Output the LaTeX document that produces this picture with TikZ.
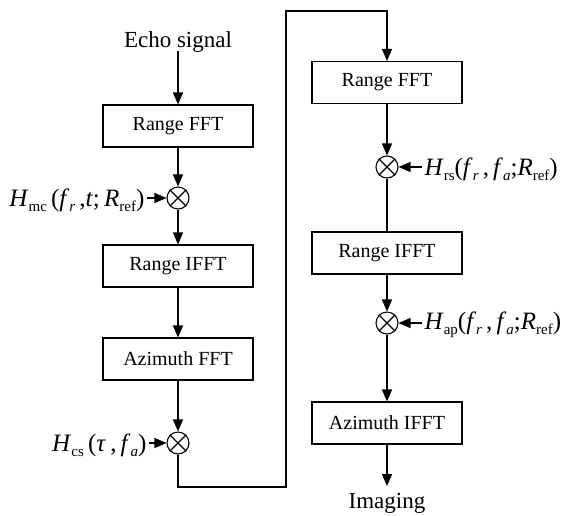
\documentclass[tikz,border=0pt]{standalone}
\usepackage{fontspec}
\setmainfont{Liberation Serif}
\usetikzlibrary{arrows.meta}
% subscripts set small and lowered
\newcommand{\lsub}[1]{\raisebox{-5pt}{\fontsize{15}{15}\selectfont #1}}
\newcommand{\isub}[1]{\raisebox{-5pt}{\fontsize{15}{15}\selectfont\itshape #1}}
\begin{document}
\begin{tikzpicture}[x=1pt,y=-1pt,
  line width=1.3pt,
  procbox/.style={draw, line width=1.1pt, minimum width=150pt, minimum height=42pt,
    inner sep=0pt, font=\fontsize{20}{24}\selectfont\rmfamily},
  mixc/.style={draw, circle, line width=1.1pt, minimum size=22pt, inner sep=0pt},
  flow/.style={-{Triangle[length=12pt,width=10pt]}},
  endtext/.style={font=\fontsize{23}{27}\selectfont\rmfamily, inner sep=0pt},
  lab/.style={font=\fontsize{25}{29}\selectfont\rmfamily, inner sep=0pt}]
\useasboundingbox (0,0) rectangle (569,515);

% left column
\node[endtext, anchor=base] (echo) at (178,47) {Echo signal};
\node[procbox] (rfft1) at (178,126) {Range FFT};
\node[mixc] (m1) at (178,198) {};
\node[procbox] (rifft1) at (178,266) {Range IFFT};
\node[procbox] (afft) at (178,359) {Azimuth FFT};
\node[mixc] (m2) at (178,443) {};

% right column
\node[procbox] (rfft2) at (387,82.5) {Range FFT};
\node[mixc] (m3) at (387,167) {};
\node[procbox] (rifft2) at (387,253) {Range IFFT};
\node[mixc] (m4) at (387,323) {};
\node[procbox] (aifft) at (387,423) {Azimuth IFFT};
\node[endtext, anchor=base] (img) at (387,508) {Imaging};

% crosses inside the multipliers
\foreach \m in {m1,m2,m3,m4}{
  \draw[line width=1.1pt] (\m.north west) -- (\m.south east)
                          (\m.north east) -- (\m.south west);
}

% phase-function labels
\node[lab, anchor=east] (hmc) at (145,200)
  {\textit{H}\lsub{mc}\,(\textit{f}\isub{r}\,,\textit{t};\,\textit{R}\lsub{ref})};
\node[lab, anchor=east] (hcs) at (147,445)
  {\textit{H}\lsub{cs}\,(\textit{τ}\,,\,\textit{f}\isub{a})};
\node[lab, anchor=west] (hrs) at (424,169)
  {\textit{H}\lsub{rs}(\textit{f}\isub{r}\,,\,\textit{f}\isub{a};\textit{R}\lsub{ref})};
\node[lab, anchor=west] (hap) at (424,325)
  {\textit{H}\lsub{ap}(\textit{f}\isub{r}\,,\,\textit{f}\isub{a};\textit{R}\lsub{ref})};

% signal flow
\coordinate (c1) at (178,487);
\coordinate (c2) at (286,487);
\coordinate (c3) at (286,11);
\coordinate (c4) at (387,11);
\draw[flow] (echo.south |- 0,51) -- (rfft1.north);
\draw[flow] (rfft1) -- (m1);
\draw[flow] (m1) -- (rifft1);
\draw[flow] (rifft1) -- (afft);
\draw[flow] (afft) -- (m2);
\draw[flow] (m2.south) -- (c1) -- (c2) -- (c3) -- (c4) -- (rfft2.north);
\draw[flow] (rfft2) -- (m3);
\draw (m3) -- (rifft2);
\draw[flow] (rifft2) -- (m4);
\draw[flow] (m4) -- (aifft);
\draw[flow] (aifft) -- (img.north |- 0,486);

\draw[flow] (147,198) -- (m1.west);
\draw[flow] (149,443) -- (m2.west);
\draw[flow] (422,167) -- (m3.east);
\draw[flow] (422,323) -- (m4.east);
\end{tikzpicture}
\end{document}
